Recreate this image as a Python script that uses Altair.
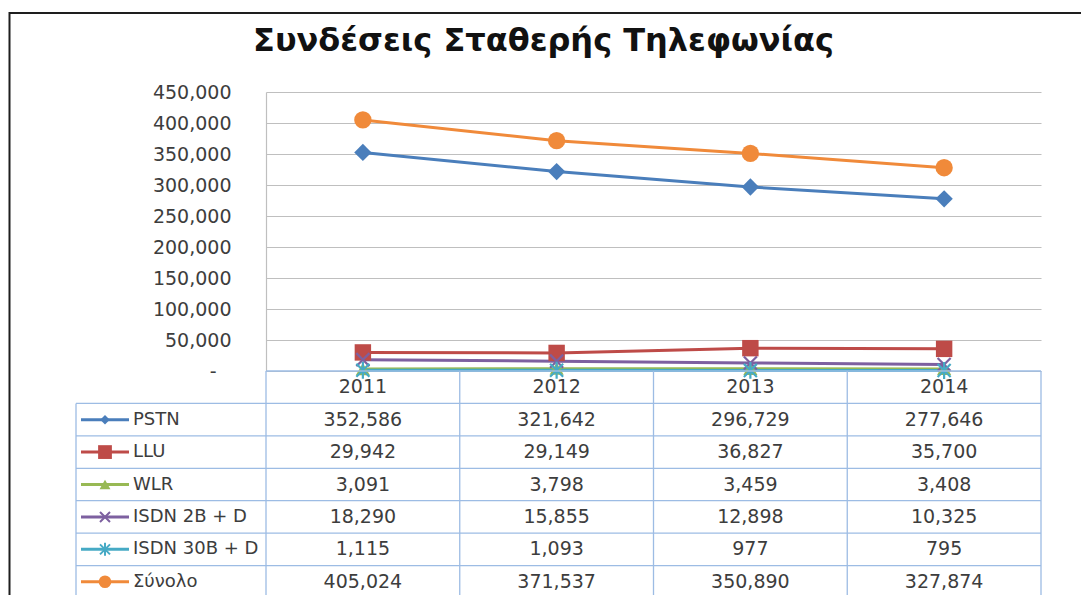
import altair as alt
import pandas as pd

# ---------------- data ----------------
years = ["2011", "2012", "2013", "2014"]
series = ["PSTN", "LLU", "WLR", "ISDN 2B + D", "ISDN 30B + D", "Σύνολο"]
pstn = [352586, 321642, 296729, 277646]
llu = [29942, 29149, 36827, 35700]
wlr = [3091, 3798, 3459, 3408]
isdn_2b = [18290, 15855, 12898, 10325]
isdn_30b = [1115, 1093, 977, 795]
synolo = [405024, 371537, 350890, 327874]
y_ticks = [0, 50000, 100000, 150000, 200000, 250000, 300000, 350000, 400000, 450000]
chart_title = "Συνδέσεις Σταθερής Τηλεφωνίας"

# ---------------- styles ----------------
colors = ["#4A7EBB", "#BE4B48", "#98B954", "#7D60A0", "#46AAC5", "#F08A3A"]
X_PATH = "M-1,-1L1,1M-1,1L1,-1"
STAR_PATH = "M-1,-1L1,1M-1,1L1,-1M0,-1.3L0,1.3"
shapes = ["diamond", "square", "triangle-up", X_PATH, STAR_PATH, "circle"]
plot_sizes = [300, 270, 200, 170, 170, 300]
legend_sizes = [90, 190, 120, 100, 100, 160]
stroked = ["ISDN 2B + D", "ISDN 30B + D"]
FONT = "DejaVu Sans"
TXT = "#3d3d3d"
GRID = "#BFBFBF"
TBL = "#9DBCE4"

W, H_PLOT, H_TBL = 775, 279, 227
COL_W = W / 4
LEG0 = -190 / COL_W           # legend column left edge (table units)
LEG_L = -185 / COL_W          # legend line start
LEG_R = -137 / COL_W          # legend line end
LEG_C = (LEG_L + LEG_R) / 2   # legend marker
LEG_T = -133 / COL_W          # legend label start

values = [pstn, llu, wlr, isdn_2b, isdn_30b, synolo]
rows = []
for i, s in enumerate(series):
    for j, y in enumerate(years):
        rows.append({"series": s, "year": y, "xi": j + 0.5, "value": values[i][j],
                     "row": i + 1.5, "psize": plot_sizes[i]})
long = pd.DataFrame(rows)

color_scale = alt.Scale(domain=series, range=colors)
shape_scale = alt.Scale(domain=series, range=shapes)

xs = alt.Scale(domain=[0, 4], nice=False, zero=False)
ys = alt.Scale(domain=[0, 450000], nice=False)

base = alt.Chart(long).encode(
    x=alt.X("xi:Q", scale=xs, axis=None),
    y=alt.Y("value:Q", scale=ys, axis=alt.Axis(
        values=y_ticks, title=None,
        labelExpr="datum.value == 0 ? '-' : format(datum.value, ',')",
        labelPadding={"condition": {"test": "datum.value == 0", "value": 50},
                      "value": 35},
        grid=True, gridColor=GRID, gridWidth=1.2,
        domain=True, domainColor=GRID, domainWidth=1.2,
        ticks=False, labelFont=FONT, labelFontSize=19,
        labelColor=TXT)),
    color=alt.Color("series:N", scale=color_scale, legend=None),
)

lines = base.mark_line(strokeWidth=3)
pts_fill = base.transform_filter(
    ~alt.FieldOneOfPredicate(field="series", oneOf=stroked)
).mark_point(filled=True, opacity=1).encode(
    shape=alt.Shape("series:N", scale=shape_scale, legend=None),
    size=alt.Size("psize:Q", scale=None))
pts_stroke = base.transform_filter(
    alt.FieldOneOfPredicate(field="series", oneOf=stroked)
).mark_point(filled=False, strokeWidth=2.2, opacity=1).encode(
    shape=alt.Shape("series:N", scale=shape_scale, legend=None),
    size=alt.Size("psize:Q", scale=None))

top = alt.layer(lines, pts_fill, pts_stroke).properties(
    width=W, height=H_PLOT,
    title=alt.Title(chart_title, font=FONT, fontSize=32, fontWeight="bold",
                    color="#111111", anchor="middle", frame="group", dx=-110,
                    baseline="alphabetic", offset=0))

# ---------------- data table ----------------
tx = alt.Scale(domain=[0, 4], nice=False, zero=False)
ty = alt.Scale(domain=[0, 7], nice=False, zero=False, reverse=True)

segs = [{"x": 0, "x2": 4, "y": 0, "y2": 0}]
for r in range(1, 8):
    segs.append({"x": LEG0, "x2": 4, "y": r, "y2": r})
segs.append({"x": LEG0, "x2": LEG0, "y": 1, "y2": 7})
for c in range(0, 5):
    segs.append({"x": c, "x2": c, "y": 0, "y2": 7})
grid_df = pd.DataFrame(segs)

grid = alt.Chart(grid_df).mark_rule(color=TBL, strokeWidth=1.3).encode(
    x=alt.X("x:Q", scale=tx, axis=None), x2="x2:Q",
    y=alt.Y("y:Q", scale=ty, axis=None), y2="y2:Q")

header_df = pd.DataFrame({"year": years, "xi": [j + 0.5 for j in range(4)],
                          "row": [0.5] * 4})
header = alt.Chart(header_df).mark_text(font=FONT, fontSize=19, color=TXT,
                                        baseline="middle").encode(
    x=alt.X("xi:Q", scale=tx, axis=None), y=alt.Y("row:Q", scale=ty, axis=None),
    text="year:N")

cells = alt.Chart(long).mark_text(font=FONT, fontSize=19, color=TXT,
                                  baseline="middle").encode(
    x=alt.X("xi:Q", scale=tx, axis=None), y=alt.Y("row:Q", scale=ty, axis=None),
    text=alt.Text("value:Q", format=","))

leg_df = pd.DataFrame({"series": series,
                       "row": [i + 1.5 for i in range(len(series))],
                       "xl": [LEG_L] * len(series), "xr": [LEG_R] * len(series),
                       "xc": [LEG_C] * len(series), "xt": [LEG_T] * len(series),
                       "lsize": legend_sizes})
leg_base = alt.Chart(leg_df).encode(
    y=alt.Y("row:Q", scale=ty, axis=None),
    color=alt.Color("series:N", scale=color_scale, legend=None))
leg_lines = leg_base.mark_rule(strokeWidth=3).encode(
    x=alt.X("xl:Q", scale=tx, axis=None), x2="xr:Q")
leg_fill = leg_base.transform_filter(
    ~alt.FieldOneOfPredicate(field="series", oneOf=stroked)
).mark_point(filled=True, opacity=1).encode(
    x=alt.X("xc:Q", scale=tx, axis=None),
    shape=alt.Shape("series:N", scale=shape_scale, legend=None),
    size=alt.Size("lsize:Q", scale=None))
leg_stroke = leg_base.transform_filter(
    alt.FieldOneOfPredicate(field="series", oneOf=stroked)
).mark_point(filled=False, strokeWidth=2, opacity=1).encode(
    x=alt.X("xc:Q", scale=tx, axis=None),
    shape=alt.Shape("series:N", scale=shape_scale, legend=None),
    size=alt.Size("lsize:Q", scale=None))
leg_text = alt.Chart(leg_df).mark_text(font=FONT, fontSize=18, color=TXT,
                                       align="left", baseline="middle").encode(
    x=alt.X("xt:Q", scale=tx, axis=None), y=alt.Y("row:Q", scale=ty, axis=None),
    text="series:N")

# outer chart frame (decoration), relative to the table's origin
one = pd.DataFrame({"k": [0]})
frame_top = alt.Chart(one).mark_rule(color="#1e1e1e", strokeWidth=2).encode(
    x=alt.value(-256.5), x2=alt.value(815), y=alt.value(-358))
frame_left = alt.Chart(one).mark_rule(color="#1e1e1e", strokeWidth=2).encode(
    x=alt.value(-256.5), y=alt.value(-359), y2=alt.value(227))

table = alt.layer(grid, header, cells, leg_lines, leg_fill, leg_stroke,
                  leg_text, frame_top, frame_left).properties(width=W, height=H_TBL)

chart = alt.vconcat(top, table, spacing=0, bounds="flush").configure_view(
    stroke=None).properties(padding={"left": 0, "top": 3, "right": 0, "bottom": 0},
                            background="white")

chart.save("out.html", embed_options={"renderer": "svg", "actions": False})
